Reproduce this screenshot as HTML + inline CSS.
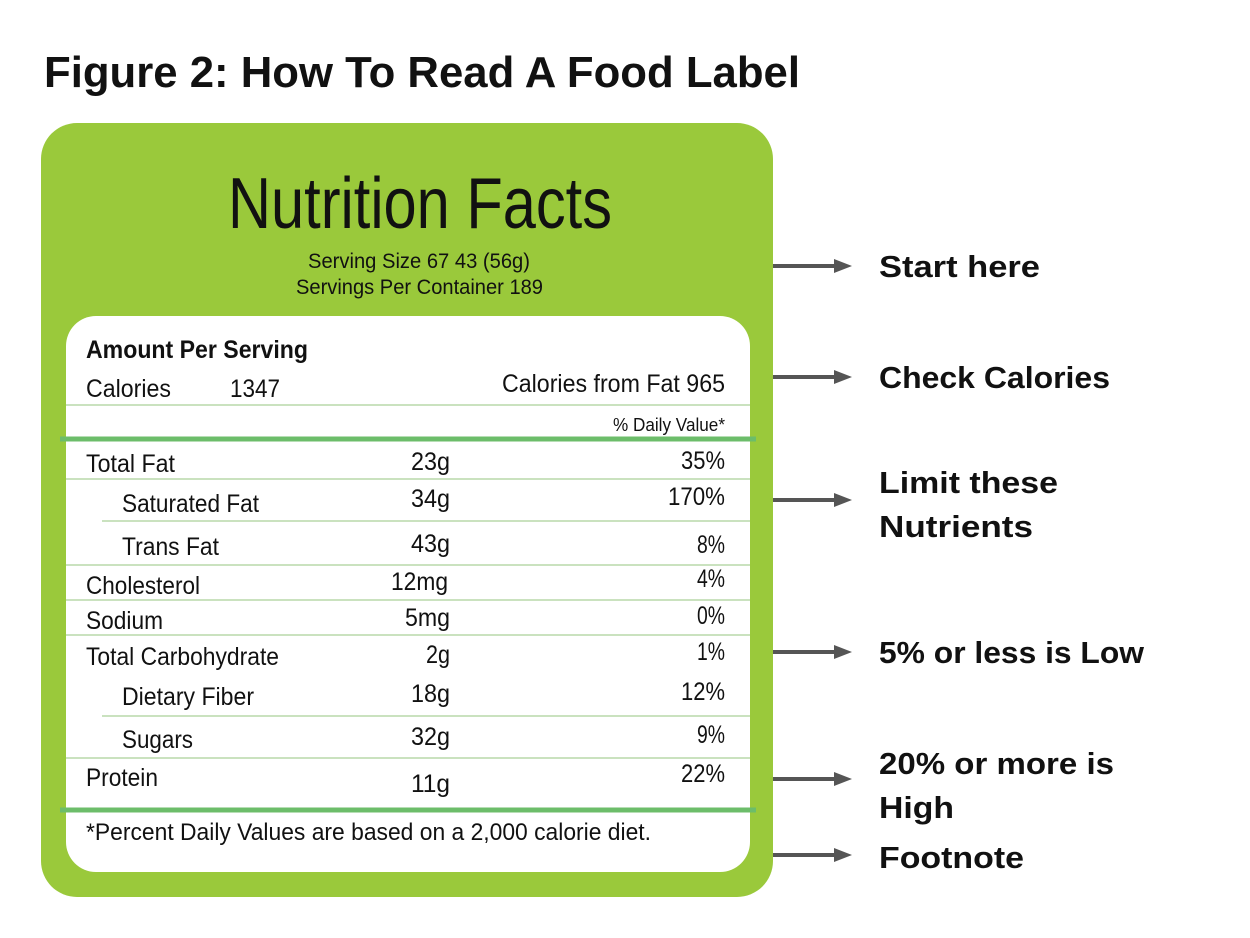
<!DOCTYPE html>
<html><head><meta charset="utf-8"><style>
html,body{margin:0;padding:0;background:#fff;width:1250px;height:938px;overflow:hidden}
svg{display:block}
.c{font-family:"Liberation Sans Narrow","Liberation Sans",sans-serif;fill:#111}
.b{font-family:"Liberation Sans",sans-serif;font-weight:bold;fill:#111}
</style></head><body>
<svg width="1250" height="938" viewBox="0 0 1250 938" xmlns="http://www.w3.org/2000/svg">
<text x="44" y="87" class="b" font-size="44" textLength="756" lengthAdjust="spacingAndGlyphs">Figure 2: How To Read A Food Label</text>
<rect x="41" y="123" width="732" height="774" rx="36" fill="#9ac93b"/>
<rect x="66" y="316" width="684" height="556" rx="30" fill="#fff"/>
<text x="228" y="228" class="c" font-size="72" textLength="384" lengthAdjust="spacingAndGlyphs">Nutrition Facts</text>
<text x="308" y="268" class="c" font-size="21" textLength="222" lengthAdjust="spacingAndGlyphs">Serving Size 67 43 (56g)</text>
<text x="296" y="294" class="c" font-size="21" textLength="247" lengthAdjust="spacingAndGlyphs">Servings Per Container 189</text>
<text x="86" y="358" class="c" font-size="25" font-weight="bold" textLength="222" lengthAdjust="spacingAndGlyphs">Amount Per Serving</text>
<text x="86" y="397" class="c" font-size="25" textLength="85" lengthAdjust="spacingAndGlyphs">Calories</text>
<text x="230" y="397" class="c" font-size="25" textLength="50" lengthAdjust="spacingAndGlyphs">1347</text>
<text x="502" y="392" class="c" font-size="25" textLength="223" lengthAdjust="spacingAndGlyphs">Calories from Fat 965</text>
<line x1="66" y1="405" x2="750" y2="405" stroke="#b8d8aa" stroke-width="1.5"/>
<text x="613" y="431" class="c" font-size="18" textLength="112" lengthAdjust="spacingAndGlyphs">% Daily Value*</text>
<line x1="60" y1="439" x2="756" y2="439" stroke="#6cbd6a" stroke-width="5"/>
<g class="c" font-size="25" lengthAdjust="spacingAndGlyphs">
<text x="86" y="472" textLength="89" lengthAdjust="spacingAndGlyphs">Total Fat</text><text x="411" y="470" textLength="39" lengthAdjust="spacingAndGlyphs">23g</text><text x="681" y="469" textLength="44" lengthAdjust="spacingAndGlyphs">35%</text>
<text x="122" y="512" textLength="137" lengthAdjust="spacingAndGlyphs">Saturated Fat</text><text x="411" y="507" textLength="39" lengthAdjust="spacingAndGlyphs">34g</text><text x="668" y="505" textLength="57" lengthAdjust="spacingAndGlyphs">170%</text>
<text x="122" y="555" textLength="97" lengthAdjust="spacingAndGlyphs">Trans Fat</text><text x="411" y="552" textLength="39" lengthAdjust="spacingAndGlyphs">43g</text><text x="697" y="553" textLength="28" lengthAdjust="spacingAndGlyphs">8%</text>
<text x="86" y="594" textLength="114" lengthAdjust="spacingAndGlyphs">Cholesterol</text><text x="391" y="590" textLength="57" lengthAdjust="spacingAndGlyphs">12mg</text><text x="697" y="587" textLength="28" lengthAdjust="spacingAndGlyphs">4%</text>
<text x="86" y="629" textLength="77" lengthAdjust="spacingAndGlyphs">Sodium</text><text x="405" y="626" textLength="45" lengthAdjust="spacingAndGlyphs">5mg</text><text x="697" y="624" textLength="28" lengthAdjust="spacingAndGlyphs">0%</text>
<text x="86" y="665" textLength="193" lengthAdjust="spacingAndGlyphs">Total Carbohydrate</text><text x="426" y="663" textLength="24" lengthAdjust="spacingAndGlyphs">2g</text><text x="697" y="660" textLength="28" lengthAdjust="spacingAndGlyphs">1%</text>
<text x="122" y="705" textLength="132" lengthAdjust="spacingAndGlyphs">Dietary Fiber</text><text x="411" y="702" textLength="39" lengthAdjust="spacingAndGlyphs">18g</text><text x="681" y="700" textLength="44" lengthAdjust="spacingAndGlyphs">12%</text>
<text x="122" y="748" textLength="71" lengthAdjust="spacingAndGlyphs">Sugars</text><text x="411" y="745" textLength="39" lengthAdjust="spacingAndGlyphs">32g</text><text x="697" y="743" textLength="28" lengthAdjust="spacingAndGlyphs">9%</text>
<text x="86" y="786" textLength="72" lengthAdjust="spacingAndGlyphs">Protein</text><text x="411" y="792" textLength="39" lengthAdjust="spacingAndGlyphs">11g</text><text x="681" y="782" textLength="44" lengthAdjust="spacingAndGlyphs">22%</text>
</g>
<g stroke="#b8d8aa" stroke-width="1.5">
<line x1="66" y1="479" x2="750" y2="479"/><line x1="102" y1="521" x2="750" y2="521"/>
<line x1="66" y1="565" x2="750" y2="565"/><line x1="66" y1="600" x2="750" y2="600"/>
<line x1="66" y1="635" x2="750" y2="635"/><line x1="102" y1="716" x2="750" y2="716"/>
<line x1="66" y1="758" x2="750" y2="758"/>
</g>
<line x1="60" y1="810" x2="756" y2="810" stroke="#6cbd6a" stroke-width="5"/>
<text x="86" y="840" class="c" font-size="24" textLength="565" lengthAdjust="spacingAndGlyphs">*Percent Daily Values are based on a 2,000 calorie diet.</text>
<g fill="#555">
<rect x="773" y="264" width="64" height="4"/><path d="M834,259 L852,266 L834,273 z"/>
<rect x="773" y="375" width="64" height="4"/><path d="M834,370 L852,377 L834,384 z"/>
<rect x="773" y="498" width="64" height="4"/><path d="M834,493 L852,500 L834,507 z"/>
<rect x="773" y="650" width="64" height="4"/><path d="M834,645 L852,652 L834,659 z"/>
<rect x="773" y="777" width="64" height="4"/><path d="M834,772 L852,779 L834,786 z"/>
<rect x="773" y="853" width="64" height="4"/><path d="M834,848 L852,855 L834,862 z"/>
</g>
<g class="b" font-size="31">
<text x="879" y="277" textLength="161" lengthAdjust="spacingAndGlyphs">Start here</text>
<text x="879" y="388" textLength="231" lengthAdjust="spacingAndGlyphs">Check Calories</text>
<text x="879" y="493" textLength="179" lengthAdjust="spacingAndGlyphs">Limit these</text>
<text x="879" y="537" textLength="154" lengthAdjust="spacingAndGlyphs">Nutrients</text>
<text x="879" y="663" textLength="265" lengthAdjust="spacingAndGlyphs">5% or less is Low</text>
<text x="879" y="774" textLength="235" lengthAdjust="spacingAndGlyphs">20% or more is</text>
<text x="879" y="818" textLength="75" lengthAdjust="spacingAndGlyphs">High</text>
<text x="879" y="868" textLength="145" lengthAdjust="spacingAndGlyphs">Footnote</text>
</g>
</svg>
</body></html>
